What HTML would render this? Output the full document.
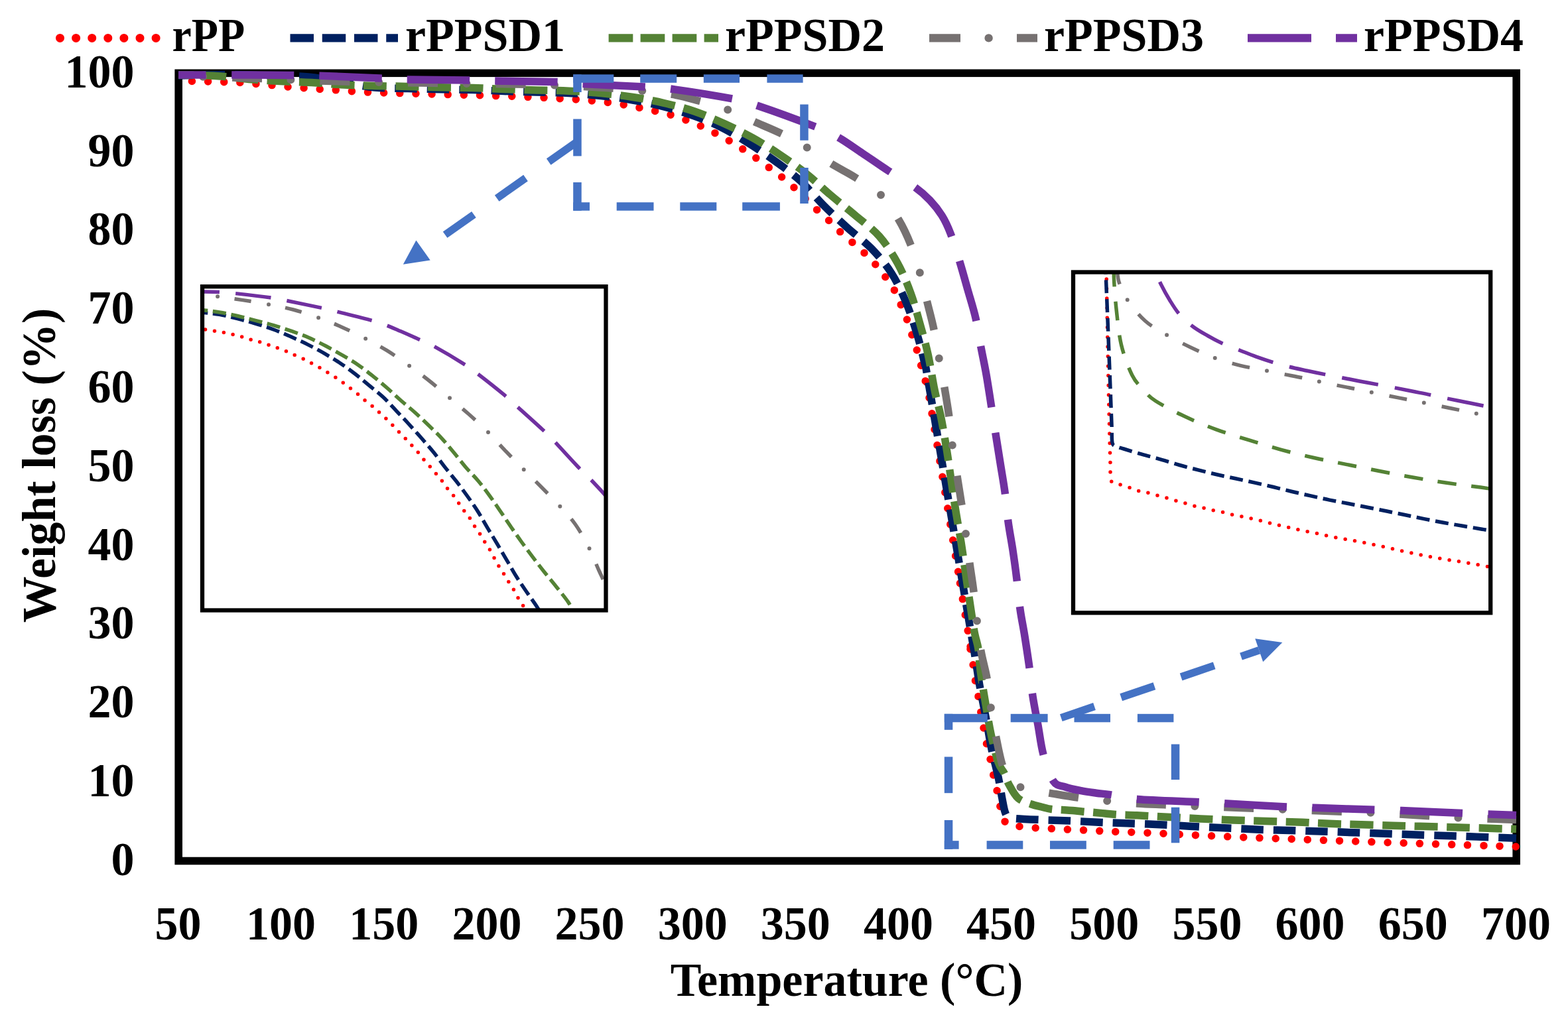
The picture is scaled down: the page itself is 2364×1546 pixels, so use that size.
<!DOCTYPE html><html><head><meta charset="utf-8"><title>TGA curves</title><style>html,body{margin:0;padding:0;background:#fff;}svg{display:block;}text{font-family:"Liberation Serif","Times New Roman",serif;font-weight:bold;fill:#000;}</style></head><body>
<svg width="2364" height="1546" viewBox="0 0 2364 1546">
<rect x="0" y="0" width="2364" height="1546" fill="#fff"/>
<defs><clipPath id="cm"><rect x="263.2" y="104.3" width="2029" height="1200.2"/></clipPath>
<clipPath id="cl"><rect x="305" y="432.2" width="608.5" height="488.3"/></clipPath>
<clipPath id="cr"><rect x="1618" y="410.5" width="629.2" height="513.8"/></clipPath>
<clipPath id="k0"><rect x="0" y="0" width="2364" height="872"/></clipPath>
<clipPath id="k1"><rect x="0" y="872" width="2364" height="674"/></clipPath>
<clipPath id="k2"><rect x="0" y="0" width="1522.5" height="1546"/></clipPath>
<clipPath id="k3"><rect x="1522.5" y="0" width="841.5" height="1546"/></clipPath>
<clipPath id="k4"><rect x="0" y="0" width="1476" height="1546"/></clipPath>
<clipPath id="k5"><rect x="1476" y="0" width="888" height="1546"/></clipPath>
<clipPath id="k6"><rect x="0" y="0" width="2364" height="683"/></clipPath>
<clipPath id="k7"><rect x="0" y="683" width="2364" height="863"/></clipPath>
<clipPath id="k8"><rect x="0" y="0" width="2364" height="683"/></clipPath>
<clipPath id="k9"><rect x="0" y="683" width="2364" height="863"/></clipPath>
<clipPath id="k10"><rect x="0" y="0" width="1362" height="1546"/></clipPath>
<clipPath id="k11"><rect x="1362" y="0" width="217" height="1546"/></clipPath>
<clipPath id="k12"><rect x="1579" y="0" width="785" height="1546"/></clipPath>
</defs>
<rect x="269.2" y="110.3" width="2017" height="1188.2" fill="none" stroke="#000" stroke-width="11.6"/>
<text transform="translate(202.5,1319.9) scale(1,1.025)" font-size="70" text-anchor="end">0</text>
<text transform="translate(202.5,1201.1) scale(1,1.025)" font-size="70" text-anchor="end">10</text>
<text transform="translate(202.5,1082.3) scale(1,1.025)" font-size="70" text-anchor="end">20</text>
<text transform="translate(202.5,963.4) scale(1,1.025)" font-size="70" text-anchor="end">30</text>
<text transform="translate(202.5,844.6) scale(1,1.025)" font-size="70" text-anchor="end">40</text>
<text transform="translate(202.5,725.8) scale(1,1.025)" font-size="70" text-anchor="end">50</text>
<text transform="translate(202.5,607) scale(1,1.025)" font-size="70" text-anchor="end">60</text>
<text transform="translate(202.5,488.2) scale(1,1.025)" font-size="70" text-anchor="end">70</text>
<text transform="translate(202.5,369.3) scale(1,1.025)" font-size="70" text-anchor="end">80</text>
<text transform="translate(202.5,250.5) scale(1,1.025)" font-size="70" text-anchor="end">90</text>
<text transform="translate(202.5,131.7) scale(1,1.025)" font-size="70" text-anchor="end">100</text>
<text transform="translate(268.4,1416.5) scale(1,1.025)" font-size="70" text-anchor="middle">50</text>
<text transform="translate(423.6,1416.5) scale(1,1.025)" font-size="70" text-anchor="middle">100</text>
<text transform="translate(578.7,1416.5) scale(1,1.025)" font-size="70" text-anchor="middle">150</text>
<text transform="translate(733.9,1416.5) scale(1,1.025)" font-size="70" text-anchor="middle">200</text>
<text transform="translate(889,1416.5) scale(1,1.025)" font-size="70" text-anchor="middle">250</text>
<text transform="translate(1044.2,1416.5) scale(1,1.025)" font-size="70" text-anchor="middle">300</text>
<text transform="translate(1199.3,1416.5) scale(1,1.025)" font-size="70" text-anchor="middle">350</text>
<text transform="translate(1354.5,1416.5) scale(1,1.025)" font-size="70" text-anchor="middle">400</text>
<text transform="translate(1509.6,1416.5) scale(1,1.025)" font-size="70" text-anchor="middle">450</text>
<text transform="translate(1664.8,1416.5) scale(1,1.025)" font-size="70" text-anchor="middle">500</text>
<text transform="translate(1819.9,1416.5) scale(1,1.025)" font-size="70" text-anchor="middle">550</text>
<text transform="translate(1975.1,1416.5) scale(1,1.025)" font-size="70" text-anchor="middle">600</text>
<text transform="translate(2130.2,1416.5) scale(1,1.025)" font-size="70" text-anchor="middle">650</text>
<text transform="translate(2285.4,1416.5) scale(1,1.025)" font-size="70" text-anchor="middle">700</text>
<text transform="translate(1276.5,1502) scale(1,1.025)" font-size="70" text-anchor="middle">Temperature (°C)</text>
<text transform="translate(83,702) rotate(-90) scale(1,1.025)" font-size="70" text-anchor="middle">Weight loss (%)</text>
<g fill="none">
<path d="M90.5,57.4 H241" stroke="#FF0000" stroke-width="13.0" stroke-linecap="round" stroke-dasharray="0 24.1"/>
<path d="M437.5,57.4 H600" stroke="#002060" stroke-width="12.2" stroke-dasharray="35.5 12.75"/>
<path d="M917.6,57.4 H1083" stroke="#548235" stroke-width="12.2" stroke-dasharray="36.7 11.3"/>
<path d="M1401,57.4 H1564" stroke="#767171" stroke-width="12.2" stroke-dasharray="47 85"/>
<circle cx="1490.6" cy="57.4" r="6.2" fill="#767171"/>
<path d="M1881,57.4 H2046" stroke="#7030A0" stroke-width="12.2" stroke-dasharray="96 37"/>
</g>
<text transform="translate(611,76.5) scale(1,1.025)" font-size="70">rPPSD1</text>
<text transform="translate(1093,76.5) scale(1,1.025)" font-size="70">rPPSD2</text>
<text transform="translate(1574,76.5) scale(1,1.025)" font-size="70">rPPSD3</text>
<text transform="translate(2056,76.5) scale(1,1.025)" font-size="70">rPPSD4</text>
<text transform="translate(259.5,76.5) scale(0.94,1.025)" font-size="70">rPP</text>
<g clip-path="url(#cm)">
<path d="M269,122 C272.3,122.1 281.7,122.3 289,122.5 C296.3,122.7 305,122.7 313,122.9 C321,123.1 329,123.3 337,123.6 C345,123.9 352.8,124 361,124.5 C369.2,125 377.8,125.7 386,126.4 C394.2,127.1 402,127.8 410,128.6 C418,129.4 426,130.3 434,131 C442,131.7 449.8,132.2 458,132.8 C466.2,133.4 474.8,134 483,134.5 C491.2,135 499,135.4 507,135.9 C515,136.4 523,137.2 531,137.7 C539,138.2 547,138.7 555,139.1 C563,139.5 571,139.8 579,140 C587,140.2 594.8,140.4 603,140.6 C611.2,140.8 619.8,141.1 628,141.3 C636.2,141.5 644,141.8 652,142 C660,142.2 668,142.4 676,142.6 C684,142.8 692,143 700,143.2 C708,143.4 716,143.6 724,143.8 C732,144 740,144.3 748,144.6 C756,144.8 763.8,145 772,145.3 C780.2,145.6 788.8,146.1 797,146.4 C805.2,146.8 813,147 821,147.4 C829,147.8 836.9,148.3 845,148.7 C853.1,149.1 861.5,149.4 869.5,150 C877.5,150.6 885.1,151.2 893,152 C900.9,152.8 909,153.5 917,154.5 C925,155.5 933,156.7 941,158 C949,159.3 957,161 965,162.6 C973,164.2 981.1,165.9 989,167.7 C996.9,169.5 1004.9,171.3 1012.6,173.6 C1020.3,175.9 1027.9,178.7 1035.4,181.5 C1042.9,184.3 1050.2,187.2 1057.4,190.5 C1064.6,193.8 1071.5,197.3 1078.6,201 C1085.6,204.7 1092.8,208.5 1099.7,212.5 C1106.6,216.5 1113.2,220.6 1120,225 C1126.8,229.4 1133.7,234 1140.3,238.7 C1146.9,243.4 1153.3,248.2 1159.8,253 C1166.3,257.8 1173,262.6 1179.2,267.5 C1185.4,272.4 1191.2,277.4 1197,282.7 C1202.8,288 1208.2,293.9 1214,299.5 C1219.8,305.1 1225.7,311 1231.7,316.5 C1237.7,322 1244.1,327.3 1249.8,332.7 C1255.5,338.1 1260.1,343.5 1266,349 C1271.9,354.5 1278.8,360.1 1285,365.5 C1291.2,370.9 1297.2,375.8 1303,381.4 C1308.8,387 1314.7,392.9 1320,399 C1325.3,405.1 1330.3,411.7 1335,418 C1339.7,424.3 1344.2,430.3 1348,437 C1351.8,443.7 1354.3,450.7 1357.5,458 C1360.7,465.3 1364.2,473.3 1367,481 C1369.8,488.7 1372,496.3 1374.5,504 C1377,511.7 1379.7,519.2 1382,527 C1384.3,534.8 1386.3,543.2 1388.5,551 C1390.7,558.8 1393,566.3 1395,574 C1397,581.7 1389.7,533.7 1400.5,597 C1411.3,660.3 1449.2,890.3 1459.6,954 C1470,1017.7 1461.8,971 1463,979 C1464.2,987 1465.8,994 1467,1002 C1468.2,1010 1469.2,1018.9 1470.5,1027 C1471.8,1035.1 1473.7,1043 1475,1050.6 C1476.3,1058.2 1477.2,1064.5 1478.5,1072.4 C1479.8,1080.3 1481.5,1089.7 1483,1098 C1484.5,1106.3 1485.8,1114.2 1487.5,1122 C1489.2,1129.8 1491.3,1137.3 1493,1145 C1494.7,1152.7 1495.8,1160.2 1497.5,1168 C1499.2,1175.8 1501.2,1183.8 1503,1192 C1504.8,1200.2 1506.2,1209.7 1508,1217 C1509.8,1224.3 1511.5,1231.6 1513.5,1236 C1515.5,1240.4 1516.4,1241.8 1520,1243.5 C1523.6,1245.2 1528.7,1245.5 1535.3,1246.3 C1541.9,1247.1 1551.6,1248 1559.8,1248.6 C1568,1249.2 1576.2,1249.4 1584.2,1249.8 C1592.2,1250.2 1599.5,1250.6 1607.5,1251 C1615.5,1251.4 1623.8,1251.6 1632,1252 C1640.2,1252.4 1648.2,1252.9 1656.4,1253.3 C1664.6,1253.7 1668.8,1253.9 1680.9,1254.4 C1693,1254.9 1708.9,1255.2 1729,1256.1 C1749.1,1257 1777.5,1258.5 1801.7,1259.6 C1825.9,1260.7 1850.1,1261.9 1874.3,1262.9 C1898.5,1263.9 1926.9,1264.8 1947,1265.5 C1967.1,1266.2 1969.5,1266.4 1995,1267.3 C2020.5,1268.2 2065.8,1269.8 2100,1271 C2134.2,1272.2 2169,1273.2 2200,1274.2 C2231,1275.2 2271.7,1276.5 2286,1277" fill="none" stroke="#FF0000" stroke-width="11.5" stroke-linecap="round" stroke-linejoin="round" stroke-dasharray="0 24.15" stroke-dashoffset="3.7" clip-path="url(#k0)"/><path d="M269,122 C272.3,122.1 281.7,122.3 289,122.5 C296.3,122.7 305,122.7 313,122.9 C321,123.1 329,123.3 337,123.6 C345,123.9 352.8,124 361,124.5 C369.2,125 377.8,125.7 386,126.4 C394.2,127.1 402,127.8 410,128.6 C418,129.4 426,130.3 434,131 C442,131.7 449.8,132.2 458,132.8 C466.2,133.4 474.8,134 483,134.5 C491.2,135 499,135.4 507,135.9 C515,136.4 523,137.2 531,137.7 C539,138.2 547,138.7 555,139.1 C563,139.5 571,139.8 579,140 C587,140.2 594.8,140.4 603,140.6 C611.2,140.8 619.8,141.1 628,141.3 C636.2,141.5 644,141.8 652,142 C660,142.2 668,142.4 676,142.6 C684,142.8 692,143 700,143.2 C708,143.4 716,143.6 724,143.8 C732,144 740,144.3 748,144.6 C756,144.8 763.8,145 772,145.3 C780.2,145.6 788.8,146.1 797,146.4 C805.2,146.8 813,147 821,147.4 C829,147.8 836.9,148.3 845,148.7 C853.1,149.1 861.5,149.4 869.5,150 C877.5,150.6 885.1,151.2 893,152 C900.9,152.8 909,153.5 917,154.5 C925,155.5 933,156.7 941,158 C949,159.3 957,161 965,162.6 C973,164.2 981.1,165.9 989,167.7 C996.9,169.5 1004.9,171.3 1012.6,173.6 C1020.3,175.9 1027.9,178.7 1035.4,181.5 C1042.9,184.3 1050.2,187.2 1057.4,190.5 C1064.6,193.8 1071.5,197.3 1078.6,201 C1085.6,204.7 1092.8,208.5 1099.7,212.5 C1106.6,216.5 1113.2,220.6 1120,225 C1126.8,229.4 1133.7,234 1140.3,238.7 C1146.9,243.4 1153.3,248.2 1159.8,253 C1166.3,257.8 1173,262.6 1179.2,267.5 C1185.4,272.4 1191.2,277.4 1197,282.7 C1202.8,288 1208.2,293.9 1214,299.5 C1219.8,305.1 1225.7,311 1231.7,316.5 C1237.7,322 1244.1,327.3 1249.8,332.7 C1255.5,338.1 1260.1,343.5 1266,349 C1271.9,354.5 1278.8,360.1 1285,365.5 C1291.2,370.9 1297.2,375.8 1303,381.4 C1308.8,387 1314.7,392.9 1320,399 C1325.3,405.1 1330.3,411.7 1335,418 C1339.7,424.3 1344.2,430.3 1348,437 C1351.8,443.7 1354.3,450.7 1357.5,458 C1360.7,465.3 1364.2,473.3 1367,481 C1369.8,488.7 1372,496.3 1374.5,504 C1377,511.7 1379.7,519.2 1382,527 C1384.3,534.8 1386.3,543.2 1388.5,551 C1390.7,558.8 1393,566.3 1395,574 C1397,581.7 1389.7,533.7 1400.5,597 C1411.3,660.3 1449.2,890.3 1459.6,954 C1470,1017.7 1461.8,971 1463,979 C1464.2,987 1465.8,994 1467,1002 C1468.2,1010 1469.2,1018.9 1470.5,1027 C1471.8,1035.1 1473.7,1043 1475,1050.6 C1476.3,1058.2 1477.2,1064.5 1478.5,1072.4 C1479.8,1080.3 1481.5,1089.7 1483,1098 C1484.5,1106.3 1485.8,1114.2 1487.5,1122 C1489.2,1129.8 1491.3,1137.3 1493,1145 C1494.7,1152.7 1495.8,1160.2 1497.5,1168 C1499.2,1175.8 1501.2,1183.8 1503,1192 C1504.8,1200.2 1506.2,1209.7 1508,1217 C1509.8,1224.3 1511.5,1231.6 1513.5,1236 C1515.5,1240.4 1516.4,1241.8 1520,1243.5 C1523.6,1245.2 1528.7,1245.5 1535.3,1246.3 C1541.9,1247.1 1551.6,1248 1559.8,1248.6 C1568,1249.2 1576.2,1249.4 1584.2,1249.8 C1592.2,1250.2 1599.5,1250.6 1607.5,1251 C1615.5,1251.4 1623.8,1251.6 1632,1252 C1640.2,1252.4 1648.2,1252.9 1656.4,1253.3 C1664.6,1253.7 1668.8,1253.9 1680.9,1254.4 C1693,1254.9 1708.9,1255.2 1729,1256.1 C1749.1,1257 1777.5,1258.5 1801.7,1259.6 C1825.9,1260.7 1850.1,1261.9 1874.3,1262.9 C1898.5,1263.9 1926.9,1264.8 1947,1265.5 C1967.1,1266.2 1969.5,1266.4 1995,1267.3 C2020.5,1268.2 2065.8,1269.8 2100,1271 C2134.2,1272.2 2169,1273.2 2200,1274.2 C2231,1275.2 2271.7,1276.5 2286,1277" fill="none" stroke="#FF0000" stroke-width="11.5" stroke-linecap="round" stroke-linejoin="round" stroke-dasharray="0 24.15" stroke-dashoffset="10.1" clip-path="url(#k1)"/>
<path d="M269,114 C280.8,113.8 318.2,112.5 340,112.5 C361.8,112.5 379.2,113.4 400,114 C420.8,114.6 445,114.2 465,116 C485,117.8 503.3,122.3 520,125 C536.7,127.7 549.2,130.6 565,132 C580.8,133.4 598.5,133 615,133.5 C631.5,134 647.7,134.5 664,134.8 C680.3,135.1 697,135.1 713,135.5 C729,135.9 744,136.9 760,137.5 C776,138.1 792.7,138.5 809,139 C825.3,139.5 841.8,139.6 858,140.5 C874.2,141.4 890,142.8 906,144.5 C922,146.2 938.2,148.2 954,151 C969.8,153.8 985.5,157 1001,161 C1016.5,165 1032.2,169.7 1047,175 C1061.8,180.3 1075.7,186 1089.5,193 C1103.3,200 1116.6,208.5 1130,217 C1143.4,225.5 1157.2,234.7 1170,244 C1182.8,253.3 1195,262 1207,273 C1219,284 1230.3,298.3 1242,310 C1253.7,321.7 1265,332.2 1277,343 C1289,353.8 1302.8,363.5 1314,375 C1325.2,386.5 1335.3,398.5 1344,412 C1352.7,425.5 1359.7,441 1366,456 C1372.3,471 1377.3,486.7 1382,502 C1386.7,517.3 1390.7,533.3 1394,548 C1397.3,562.7 1390.7,524.2 1402,590 C1413.3,655.8 1450.8,876.8 1462,943 C1473.2,1009.2 1467,971.8 1469.5,987 C1472,1002.2 1474.2,1018 1477,1034 C1479.8,1050 1483.5,1067 1486.5,1083 C1489.5,1099 1491.9,1115.2 1495,1130 C1498.1,1144.8 1502.3,1159.5 1505,1172 C1507.7,1184.5 1509.3,1196.3 1511,1205 C1512.7,1213.7 1513.5,1219.4 1515,1224 C1516.5,1228.6 1517.5,1230.8 1520,1232.5 C1522.5,1234.2 1522.7,1233.9 1530,1234.5 C1537.3,1235.1 1550.3,1235.7 1564,1236.3 C1577.7,1236.9 1595.8,1237.3 1612,1238 C1628.2,1238.7 1646.3,1239.8 1661,1240.4 C1675.7,1241 1683.7,1241.2 1700,1241.8 C1716.3,1242.4 1741,1243.3 1759,1244.2 C1777,1245.1 1791.8,1246.2 1808,1247 C1824.2,1247.8 1840,1248.5 1856,1249.2 C1872,1249.9 1887.8,1250.8 1904,1251.4 C1920.2,1252 1937,1252.3 1953,1252.8 C1969,1253.3 1975.5,1253.5 2000,1254.3 C2024.5,1255.1 2066.7,1256.6 2100,1257.8 C2133.3,1259 2169,1260.1 2200,1261.2 C2231,1262.3 2271.7,1263.7 2286,1264.2" fill="none" stroke="#002060" stroke-width="11.5" stroke-linecap="butt" stroke-linejoin="round" stroke-dasharray="33.5 15" stroke-dashoffset="11.9" clip-path="url(#k2)"/><path d="M269,114 C280.8,113.8 318.2,112.5 340,112.5 C361.8,112.5 379.2,113.4 400,114 C420.8,114.6 445,114.2 465,116 C485,117.8 503.3,122.3 520,125 C536.7,127.7 549.2,130.6 565,132 C580.8,133.4 598.5,133 615,133.5 C631.5,134 647.7,134.5 664,134.8 C680.3,135.1 697,135.1 713,135.5 C729,135.9 744,136.9 760,137.5 C776,138.1 792.7,138.5 809,139 C825.3,139.5 841.8,139.6 858,140.5 C874.2,141.4 890,142.8 906,144.5 C922,146.2 938.2,148.2 954,151 C969.8,153.8 985.5,157 1001,161 C1016.5,165 1032.2,169.7 1047,175 C1061.8,180.3 1075.7,186 1089.5,193 C1103.3,200 1116.6,208.5 1130,217 C1143.4,225.5 1157.2,234.7 1170,244 C1182.8,253.3 1195,262 1207,273 C1219,284 1230.3,298.3 1242,310 C1253.7,321.7 1265,332.2 1277,343 C1289,353.8 1302.8,363.5 1314,375 C1325.2,386.5 1335.3,398.5 1344,412 C1352.7,425.5 1359.7,441 1366,456 C1372.3,471 1377.3,486.7 1382,502 C1386.7,517.3 1390.7,533.3 1394,548 C1397.3,562.7 1390.7,524.2 1402,590 C1413.3,655.8 1450.8,876.8 1462,943 C1473.2,1009.2 1467,971.8 1469.5,987 C1472,1002.2 1474.2,1018 1477,1034 C1479.8,1050 1483.5,1067 1486.5,1083 C1489.5,1099 1491.9,1115.2 1495,1130 C1498.1,1144.8 1502.3,1159.5 1505,1172 C1507.7,1184.5 1509.3,1196.3 1511,1205 C1512.7,1213.7 1513.5,1219.4 1515,1224 C1516.5,1228.6 1517.5,1230.8 1520,1232.5 C1522.5,1234.2 1522.7,1233.9 1530,1234.5 C1537.3,1235.1 1550.3,1235.7 1564,1236.3 C1577.7,1236.9 1595.8,1237.3 1612,1238 C1628.2,1238.7 1646.3,1239.8 1661,1240.4 C1675.7,1241 1683.7,1241.2 1700,1241.8 C1716.3,1242.4 1741,1243.3 1759,1244.2 C1777,1245.1 1791.8,1246.2 1808,1247 C1824.2,1247.8 1840,1248.5 1856,1249.2 C1872,1249.9 1887.8,1250.8 1904,1251.4 C1920.2,1252 1937,1252.3 1953,1252.8 C1969,1253.3 1975.5,1253.5 2000,1254.3 C2024.5,1255.1 2066.7,1256.6 2100,1257.8 C2133.3,1259 2169,1260.1 2200,1261.2 C2231,1262.3 2271.7,1263.7 2286,1264.2" fill="none" stroke="#002060" stroke-width="11.5" stroke-linecap="butt" stroke-linejoin="round" stroke-dasharray="33.5 15" stroke-dashoffset="8.9" clip-path="url(#k3)"/>
<path d="M269,113 C278.3,113.2 307.3,113.3 325,114.4 C342.7,115.5 358.8,118.2 375,119.5 C391.2,120.8 406.2,121.7 422,122.5 C437.8,123.3 453.8,123.6 470,124.5 C486.2,125.4 503.2,127.2 519,128 C534.8,128.8 549,129.1 565,129.5 C581,129.9 598.5,130.1 615,130.5 C631.5,130.9 647.7,131.5 664,131.8 C680.3,132.1 697,132.1 713,132.5 C729,132.9 744,133.9 760,134.5 C776,135.1 792.7,135.5 809,135.9 C825.3,136.3 841.8,136.4 858,137.2 C874.2,138 890,139 906,140.6 C922,142.2 938.2,144 954,146.5 C969.8,149 985.5,151.9 1001,155.5 C1016.5,159.1 1031.8,162.8 1047,168 C1062.2,173.2 1077.3,179.8 1092,186.5 C1106.7,193.2 1121.2,200.3 1135,208 C1148.8,215.7 1161.7,223.8 1175,232.7 C1188.3,241.6 1202.2,251.4 1215,261.5 C1227.8,271.6 1239.1,282.9 1251.5,293.5 C1263.9,304.1 1277.1,314.3 1289.5,324.8 C1301.9,335.3 1315,344.3 1325.7,356.4 C1336.4,368.5 1345.6,383 1353.4,397.2 C1361.2,411.4 1367.2,426.3 1372.8,441.4 C1378.4,456.5 1382.4,472.4 1386.8,487.8 C1391.2,503.2 1395.3,517.3 1399,534 C1402.7,550.7 1405.8,572.3 1409,588 C1412.2,603.7 1415.4,613.2 1418.4,628 C1421.4,642.8 1424.4,660.5 1427,676.5 C1429.6,692.5 1431.7,708.2 1434,724 C1436.3,739.8 1438.5,755.3 1441,771 C1443.5,786.7 1446.5,802.1 1449,818 C1451.5,833.9 1453.7,850.5 1456,866.5 C1458.3,882.5 1460.8,899.6 1463,914 C1465.2,928.4 1467,942.2 1469,953 C1471,963.8 1473.5,969.3 1475,979 C1476.5,988.7 1476.2,997.7 1478,1011 C1479.8,1024.3 1482.8,1043 1485.5,1059 C1488.2,1075 1490.8,1091.8 1494,1107 C1497.2,1122.2 1501.7,1140.2 1505,1150 C1508.3,1159.8 1511.3,1160.5 1514,1166 C1516.7,1171.5 1517.5,1176.7 1521,1183 C1524.5,1189.3 1529.3,1199 1535,1204 C1540.7,1209 1549.2,1210.8 1555,1213 C1560.8,1215.2 1565,1215.8 1570,1217 C1575,1218.2 1579.8,1219.8 1585,1220.5 C1590.2,1221.2 1595.7,1221.2 1601,1221.5 C1606.3,1221.8 1611.7,1222 1617,1222.5 C1622.3,1223 1627.5,1223.7 1633,1224.2 C1638.5,1224.7 1644.5,1224.9 1650,1225.4 C1655.5,1225.9 1660.7,1226.5 1666,1227 C1671.3,1227.5 1674,1228 1682,1228.5 C1690,1229 1701.8,1229.2 1714,1229.8 C1726.2,1230.4 1739,1231.2 1755,1232 C1771,1232.8 1792.7,1234.1 1810,1234.9 C1827.3,1235.7 1842.8,1236.4 1859,1237 C1875.2,1237.6 1890.8,1238 1907,1238.5 C1923.2,1239 1939.8,1239.4 1956,1240 C1972.2,1240.6 1980,1241.4 2004,1242.3 C2028,1243.2 2067.3,1244.2 2100,1245.2 C2132.7,1246.2 2169,1247.1 2200,1248 C2231,1248.9 2271.7,1250.1 2286,1250.5" fill="none" stroke="#548235" stroke-width="11.5" stroke-linecap="butt" stroke-linejoin="round" stroke-dasharray="35 13.5" stroke-dashoffset="11.5" clip-path="url(#k4)"/><path d="M269,113 C278.3,113.2 307.3,113.3 325,114.4 C342.7,115.5 358.8,118.2 375,119.5 C391.2,120.8 406.2,121.7 422,122.5 C437.8,123.3 453.8,123.6 470,124.5 C486.2,125.4 503.2,127.2 519,128 C534.8,128.8 549,129.1 565,129.5 C581,129.9 598.5,130.1 615,130.5 C631.5,130.9 647.7,131.5 664,131.8 C680.3,132.1 697,132.1 713,132.5 C729,132.9 744,133.9 760,134.5 C776,135.1 792.7,135.5 809,135.9 C825.3,136.3 841.8,136.4 858,137.2 C874.2,138 890,139 906,140.6 C922,142.2 938.2,144 954,146.5 C969.8,149 985.5,151.9 1001,155.5 C1016.5,159.1 1031.8,162.8 1047,168 C1062.2,173.2 1077.3,179.8 1092,186.5 C1106.7,193.2 1121.2,200.3 1135,208 C1148.8,215.7 1161.7,223.8 1175,232.7 C1188.3,241.6 1202.2,251.4 1215,261.5 C1227.8,271.6 1239.1,282.9 1251.5,293.5 C1263.9,304.1 1277.1,314.3 1289.5,324.8 C1301.9,335.3 1315,344.3 1325.7,356.4 C1336.4,368.5 1345.6,383 1353.4,397.2 C1361.2,411.4 1367.2,426.3 1372.8,441.4 C1378.4,456.5 1382.4,472.4 1386.8,487.8 C1391.2,503.2 1395.3,517.3 1399,534 C1402.7,550.7 1405.8,572.3 1409,588 C1412.2,603.7 1415.4,613.2 1418.4,628 C1421.4,642.8 1424.4,660.5 1427,676.5 C1429.6,692.5 1431.7,708.2 1434,724 C1436.3,739.8 1438.5,755.3 1441,771 C1443.5,786.7 1446.5,802.1 1449,818 C1451.5,833.9 1453.7,850.5 1456,866.5 C1458.3,882.5 1460.8,899.6 1463,914 C1465.2,928.4 1467,942.2 1469,953 C1471,963.8 1473.5,969.3 1475,979 C1476.5,988.7 1476.2,997.7 1478,1011 C1479.8,1024.3 1482.8,1043 1485.5,1059 C1488.2,1075 1490.8,1091.8 1494,1107 C1497.2,1122.2 1501.7,1140.2 1505,1150 C1508.3,1159.8 1511.3,1160.5 1514,1166 C1516.7,1171.5 1517.5,1176.7 1521,1183 C1524.5,1189.3 1529.3,1199 1535,1204 C1540.7,1209 1549.2,1210.8 1555,1213 C1560.8,1215.2 1565,1215.8 1570,1217 C1575,1218.2 1579.8,1219.8 1585,1220.5 C1590.2,1221.2 1595.7,1221.2 1601,1221.5 C1606.3,1221.8 1611.7,1222 1617,1222.5 C1622.3,1223 1627.5,1223.7 1633,1224.2 C1638.5,1224.7 1644.5,1224.9 1650,1225.4 C1655.5,1225.9 1660.7,1226.5 1666,1227 C1671.3,1227.5 1674,1228 1682,1228.5 C1690,1229 1701.8,1229.2 1714,1229.8 C1726.2,1230.4 1739,1231.2 1755,1232 C1771,1232.8 1792.7,1234.1 1810,1234.9 C1827.3,1235.7 1842.8,1236.4 1859,1237 C1875.2,1237.6 1890.8,1238 1907,1238.5 C1923.2,1239 1939.8,1239.4 1956,1240 C1972.2,1240.6 1980,1241.4 2004,1242.3 C2028,1243.2 2067.3,1244.2 2100,1245.2 C2132.7,1246.2 2169,1247.1 2200,1248 C2231,1248.9 2271.7,1250.1 2286,1250.5" fill="none" stroke="#548235" stroke-width="11.5" stroke-linecap="butt" stroke-linejoin="round" stroke-dasharray="35 13.5" stroke-dashoffset="15.4" clip-path="url(#k5)"/>
<path d="M269,115 C282.5,115.3 324.8,116.2 350,117 C375.2,117.8 395,118.6 420,119.5 C445,120.4 470,121.7 500,122.5 C530,123.3 566.7,123.9 600,124.5 C633.3,125.1 666.7,125.5 700,126 C733.3,126.5 771.7,126.6 800,127.3 C828.3,128 846.7,128.8 870,130 C893.3,131.2 916.5,132.5 940,134.5 C963.5,136.5 991.8,139 1011,142 C1030.2,145 1040.8,148.7 1055,152.5 C1069.2,156.3 1082.5,159.9 1096,165 C1109.5,170.1 1122.3,176.9 1136,183 C1149.7,189.1 1164.7,195 1178,201.5 C1191.3,208 1203.7,214.6 1216,222 C1228.3,229.4 1239.7,238.3 1252,246 C1264.3,253.7 1277.3,260 1290,268 C1302.7,276 1317.2,283.4 1328,294 C1338.8,304.6 1347.5,319 1355,331.5 C1362.5,344 1367.7,355.6 1373,369 C1378.3,382.4 1382.8,397.5 1387,412 C1391.2,426.5 1394.5,441.8 1398,456 C1401.5,470.2 1405,482.7 1408,497 C1411,511.3 1413.3,527.3 1416,542 C1418.7,556.7 1421.5,570.5 1424,585 C1426.5,599.5 1429,614.3 1431,629 C1433,643.7 1434,658.2 1436,673 C1438,687.8 1440.7,703.2 1443,718 C1445.3,732.8 1447.8,747.5 1450,762 C1452.2,776.5 1454,790.3 1456,805 C1458,819.7 1460,835.5 1462,850 C1464,864.5 1466.2,877.5 1468,892 C1469.8,906.5 1471.2,922 1473,937 C1474.8,952 1476.5,967.7 1479,982 C1481.5,996.3 1485.5,1008.7 1488,1023 C1490.5,1037.3 1491.7,1053 1494,1068 C1496.3,1083 1499.2,1098.8 1502,1113 C1504.8,1127.2 1507.8,1143.2 1511,1153 C1514.2,1162.8 1516.5,1166.3 1521,1172 C1525.5,1177.7 1531.5,1183.5 1538,1187 C1544.5,1190.5 1552.8,1191.5 1560,1193 C1567.2,1194.5 1570.2,1194.3 1581,1196 C1591.8,1197.7 1610.3,1201 1625,1203 C1639.7,1205 1654,1206.5 1669,1208 C1684,1209.5 1700.2,1211 1715,1212 C1729.8,1213 1743.5,1213.3 1758,1214 C1772.5,1214.7 1783.3,1215.2 1802,1216 C1820.7,1216.8 1845.3,1217.6 1870,1218.5 C1894.7,1219.4 1916.7,1220.2 1950,1221.5 C1983.3,1222.8 2036.7,1224.5 2070,1226 C2103.3,1227.5 2128.3,1229.2 2150,1230.5 C2171.7,1231.8 2177.3,1232.5 2200,1233.5 C2222.7,1234.5 2271.7,1236 2286,1236.5" fill="none" stroke="#767171" stroke-width="11.5" stroke-linecap="butt" stroke-linejoin="round" stroke-dasharray="45 87.5" stroke-dashoffset="51.3" clip-path="url(#k6)"/><path d="M269,115 C282.5,115.3 324.8,116.2 350,117 C375.2,117.8 395,118.6 420,119.5 C445,120.4 470,121.7 500,122.5 C530,123.3 566.7,123.9 600,124.5 C633.3,125.1 666.7,125.5 700,126 C733.3,126.5 771.7,126.6 800,127.3 C828.3,128 846.7,128.8 870,130 C893.3,131.2 916.5,132.5 940,134.5 C963.5,136.5 991.8,139 1011,142 C1030.2,145 1040.8,148.7 1055,152.5 C1069.2,156.3 1082.5,159.9 1096,165 C1109.5,170.1 1122.3,176.9 1136,183 C1149.7,189.1 1164.7,195 1178,201.5 C1191.3,208 1203.7,214.6 1216,222 C1228.3,229.4 1239.7,238.3 1252,246 C1264.3,253.7 1277.3,260 1290,268 C1302.7,276 1317.2,283.4 1328,294 C1338.8,304.6 1347.5,319 1355,331.5 C1362.5,344 1367.7,355.6 1373,369 C1378.3,382.4 1382.8,397.5 1387,412 C1391.2,426.5 1394.5,441.8 1398,456 C1401.5,470.2 1405,482.7 1408,497 C1411,511.3 1413.3,527.3 1416,542 C1418.7,556.7 1421.5,570.5 1424,585 C1426.5,599.5 1429,614.3 1431,629 C1433,643.7 1434,658.2 1436,673 C1438,687.8 1440.7,703.2 1443,718 C1445.3,732.8 1447.8,747.5 1450,762 C1452.2,776.5 1454,790.3 1456,805 C1458,819.7 1460,835.5 1462,850 C1464,864.5 1466.2,877.5 1468,892 C1469.8,906.5 1471.2,922 1473,937 C1474.8,952 1476.5,967.7 1479,982 C1481.5,996.3 1485.5,1008.7 1488,1023 C1490.5,1037.3 1491.7,1053 1494,1068 C1496.3,1083 1499.2,1098.8 1502,1113 C1504.8,1127.2 1507.8,1143.2 1511,1153 C1514.2,1162.8 1516.5,1166.3 1521,1172 C1525.5,1177.7 1531.5,1183.5 1538,1187 C1544.5,1190.5 1552.8,1191.5 1560,1193 C1567.2,1194.5 1570.2,1194.3 1581,1196 C1591.8,1197.7 1610.3,1201 1625,1203 C1639.7,1205 1654,1206.5 1669,1208 C1684,1209.5 1700.2,1211 1715,1212 C1729.8,1213 1743.5,1213.3 1758,1214 C1772.5,1214.7 1783.3,1215.2 1802,1216 C1820.7,1216.8 1845.3,1217.6 1870,1218.5 C1894.7,1219.4 1916.7,1220.2 1950,1221.5 C1983.3,1222.8 2036.7,1224.5 2070,1226 C2103.3,1227.5 2128.3,1229.2 2150,1230.5 C2171.7,1231.8 2177.3,1232.5 2200,1233.5 C2222.7,1234.5 2271.7,1236 2286,1236.5" fill="none" stroke="#767171" stroke-width="11.5" stroke-linecap="butt" stroke-linejoin="round" stroke-dasharray="45 87.5" stroke-dashoffset="48.7" clip-path="url(#k7)"/>
<path d="M269,115 C282.5,115.3 324.8,116.2 350,117 C375.2,117.8 395,118.6 420,119.5 C445,120.4 470,121.7 500,122.5 C530,123.3 566.7,123.9 600,124.5 C633.3,125.1 666.7,125.5 700,126 C733.3,126.5 771.7,126.6 800,127.3 C828.3,128 846.7,128.8 870,130 C893.3,131.2 916.5,132.5 940,134.5 C963.5,136.5 991.8,139 1011,142 C1030.2,145 1040.8,148.7 1055,152.5 C1069.2,156.3 1082.5,159.9 1096,165 C1109.5,170.1 1122.3,176.9 1136,183 C1149.7,189.1 1164.7,195 1178,201.5 C1191.3,208 1203.7,214.6 1216,222 C1228.3,229.4 1239.7,238.3 1252,246 C1264.3,253.7 1277.3,260 1290,268 C1302.7,276 1317.2,283.4 1328,294 C1338.8,304.6 1347.5,319 1355,331.5 C1362.5,344 1367.7,355.6 1373,369 C1378.3,382.4 1382.8,397.5 1387,412 C1391.2,426.5 1394.5,441.8 1398,456 C1401.5,470.2 1405,482.7 1408,497 C1411,511.3 1413.3,527.3 1416,542 C1418.7,556.7 1421.5,570.5 1424,585 C1426.5,599.5 1429,614.3 1431,629 C1433,643.7 1434,658.2 1436,673 C1438,687.8 1440.7,703.2 1443,718 C1445.3,732.8 1447.8,747.5 1450,762 C1452.2,776.5 1454,790.3 1456,805 C1458,819.7 1460,835.5 1462,850 C1464,864.5 1466.2,877.5 1468,892 C1469.8,906.5 1471.2,922 1473,937 C1474.8,952 1476.5,967.7 1479,982 C1481.5,996.3 1485.5,1008.7 1488,1023 C1490.5,1037.3 1491.7,1053 1494,1068 C1496.3,1083 1499.2,1098.8 1502,1113 C1504.8,1127.2 1507.8,1143.2 1511,1153 C1514.2,1162.8 1516.5,1166.3 1521,1172 C1525.5,1177.7 1531.5,1183.5 1538,1187 C1544.5,1190.5 1552.8,1191.5 1560,1193 C1567.2,1194.5 1570.2,1194.3 1581,1196 C1591.8,1197.7 1610.3,1201 1625,1203 C1639.7,1205 1654,1206.5 1669,1208 C1684,1209.5 1700.2,1211 1715,1212 C1729.8,1213 1743.5,1213.3 1758,1214 C1772.5,1214.7 1783.3,1215.2 1802,1216 C1820.7,1216.8 1845.3,1217.6 1870,1218.5 C1894.7,1219.4 1916.7,1220.2 1950,1221.5 C1983.3,1222.8 2036.7,1224.5 2070,1226 C2103.3,1227.5 2128.3,1229.2 2150,1230.5 C2171.7,1231.8 2177.3,1232.5 2200,1233.5 C2222.7,1234.5 2271.7,1236 2286,1236.5" fill="none" stroke="#767171" stroke-width="12.0" stroke-linecap="round" stroke-linejoin="round" stroke-dasharray="0 132.5" stroke-dashoffset="95.3" clip-path="url(#k8)"/><path d="M269,115 C282.5,115.3 324.8,116.2 350,117 C375.2,117.8 395,118.6 420,119.5 C445,120.4 470,121.7 500,122.5 C530,123.3 566.7,123.9 600,124.5 C633.3,125.1 666.7,125.5 700,126 C733.3,126.5 771.7,126.6 800,127.3 C828.3,128 846.7,128.8 870,130 C893.3,131.2 916.5,132.5 940,134.5 C963.5,136.5 991.8,139 1011,142 C1030.2,145 1040.8,148.7 1055,152.5 C1069.2,156.3 1082.5,159.9 1096,165 C1109.5,170.1 1122.3,176.9 1136,183 C1149.7,189.1 1164.7,195 1178,201.5 C1191.3,208 1203.7,214.6 1216,222 C1228.3,229.4 1239.7,238.3 1252,246 C1264.3,253.7 1277.3,260 1290,268 C1302.7,276 1317.2,283.4 1328,294 C1338.8,304.6 1347.5,319 1355,331.5 C1362.5,344 1367.7,355.6 1373,369 C1378.3,382.4 1382.8,397.5 1387,412 C1391.2,426.5 1394.5,441.8 1398,456 C1401.5,470.2 1405,482.7 1408,497 C1411,511.3 1413.3,527.3 1416,542 C1418.7,556.7 1421.5,570.5 1424,585 C1426.5,599.5 1429,614.3 1431,629 C1433,643.7 1434,658.2 1436,673 C1438,687.8 1440.7,703.2 1443,718 C1445.3,732.8 1447.8,747.5 1450,762 C1452.2,776.5 1454,790.3 1456,805 C1458,819.7 1460,835.5 1462,850 C1464,864.5 1466.2,877.5 1468,892 C1469.8,906.5 1471.2,922 1473,937 C1474.8,952 1476.5,967.7 1479,982 C1481.5,996.3 1485.5,1008.7 1488,1023 C1490.5,1037.3 1491.7,1053 1494,1068 C1496.3,1083 1499.2,1098.8 1502,1113 C1504.8,1127.2 1507.8,1143.2 1511,1153 C1514.2,1162.8 1516.5,1166.3 1521,1172 C1525.5,1177.7 1531.5,1183.5 1538,1187 C1544.5,1190.5 1552.8,1191.5 1560,1193 C1567.2,1194.5 1570.2,1194.3 1581,1196 C1591.8,1197.7 1610.3,1201 1625,1203 C1639.7,1205 1654,1206.5 1669,1208 C1684,1209.5 1700.2,1211 1715,1212 C1729.8,1213 1743.5,1213.3 1758,1214 C1772.5,1214.7 1783.3,1215.2 1802,1216 C1820.7,1216.8 1845.3,1217.6 1870,1218.5 C1894.7,1219.4 1916.7,1220.2 1950,1221.5 C1983.3,1222.8 2036.7,1224.5 2070,1226 C2103.3,1227.5 2128.3,1229.2 2150,1230.5 C2171.7,1231.8 2177.3,1232.5 2200,1233.5 C2222.7,1234.5 2271.7,1236 2286,1236.5" fill="none" stroke="#767171" stroke-width="12.0" stroke-linecap="round" stroke-linejoin="round" stroke-dasharray="0 132.5" stroke-dashoffset="92.7" clip-path="url(#k9)"/>
<path d="M269,113 C287.5,113 351.5,112.9 380,113 C408.5,113.1 423.7,113.3 440,113.5 C456.3,113.7 455.8,113.2 478,114 C500.2,114.8 550.8,117 573,118 C595.2,119 588.7,119.5 611,120 C633.3,120.5 684.8,120.7 707,121 C729.2,121.3 722,121.6 744,122 C766,122.4 816.8,122.8 839,123.5 C861.2,124.2 854.8,125.2 877,126.5 C899.2,127.8 949.7,129.8 972,131 C994.3,132.2 989,131 1011,134 C1033,137 1082.3,144.8 1104,149 C1125.7,153.2 1120.2,152 1141,159 C1161.8,166 1208.8,183.2 1229,191 C1249.2,198.8 1250.2,199.3 1262,206 C1273.8,212.7 1287,222.3 1300,231 C1313,239.7 1326.8,249.5 1340,258 C1353.2,266.5 1368.7,274.7 1379,282 C1389.3,289.3 1395.2,294.8 1402,302 C1408.8,309.2 1414.8,316.7 1420,325 C1425.2,333.3 1428.5,340.3 1433,352 C1437.5,363.7 1442.7,380.8 1447,395 C1451.3,409.2 1455,422.8 1459,437 C1463,451.2 1467.7,465.5 1471,480 C1474.3,494.5 1476.3,509.8 1479,524 C1481.7,538.2 1484.5,550.8 1487,565 C1489.5,579.2 1491.7,594.2 1494,609 C1496.3,623.8 1498.7,639.2 1501,654 C1503.3,668.8 1505.7,683.3 1508,698 C1510.3,712.7 1513,727.2 1515,742 C1517,756.8 1518,772.3 1520,787 C1522,801.7 1524.8,815.5 1527,830 C1529.2,844.5 1531.2,859.2 1533,874 C1534.8,888.8 1536,904.7 1538,919 C1540,933.3 1542.7,945.3 1545,960 C1547.3,974.7 1550,992 1552,1007 C1554,1022 1554.8,1035.5 1557,1050 C1559.2,1064.5 1562.3,1079.3 1565,1094 C1567.7,1108.7 1569.2,1124 1573,1138 C1576.8,1152 1582.5,1169.8 1588,1178 C1593.5,1186.2 1599,1184.5 1606,1187 C1613,1189.5 1622.2,1191.2 1630,1192.7 C1637.8,1194.2 1645.7,1195.2 1653,1196.2 C1660.3,1197.2 1663.7,1197.1 1674,1198.6 C1684.3,1200.1 1692.7,1203.6 1715,1205.4 C1737.3,1207.2 1786.2,1208.6 1808,1209.7 C1829.8,1210.8 1824,1210.6 1846,1211.8 C1868,1213 1917.7,1215.8 1940,1216.9 C1962.3,1218 1965,1217.8 1980,1218.3 C1995,1218.8 2007.8,1219.3 2030,1220 C2052.2,1220.7 2083.2,1221.4 2113,1222.5 C2142.8,1223.6 2180.2,1225.5 2209,1226.7 C2237.8,1227.9 2273.2,1229 2286,1229.5" fill="none" stroke="#7030A0" stroke-width="11.5" stroke-linecap="butt" stroke-linejoin="round" stroke-dasharray="94 38.5" stroke-dashoffset="52.4" clip-path="url(#k10)"/><path d="M269,113 C287.5,113 351.5,112.9 380,113 C408.5,113.1 423.7,113.3 440,113.5 C456.3,113.7 455.8,113.2 478,114 C500.2,114.8 550.8,117 573,118 C595.2,119 588.7,119.5 611,120 C633.3,120.5 684.8,120.7 707,121 C729.2,121.3 722,121.6 744,122 C766,122.4 816.8,122.8 839,123.5 C861.2,124.2 854.8,125.2 877,126.5 C899.2,127.8 949.7,129.8 972,131 C994.3,132.2 989,131 1011,134 C1033,137 1082.3,144.8 1104,149 C1125.7,153.2 1120.2,152 1141,159 C1161.8,166 1208.8,183.2 1229,191 C1249.2,198.8 1250.2,199.3 1262,206 C1273.8,212.7 1287,222.3 1300,231 C1313,239.7 1326.8,249.5 1340,258 C1353.2,266.5 1368.7,274.7 1379,282 C1389.3,289.3 1395.2,294.8 1402,302 C1408.8,309.2 1414.8,316.7 1420,325 C1425.2,333.3 1428.5,340.3 1433,352 C1437.5,363.7 1442.7,380.8 1447,395 C1451.3,409.2 1455,422.8 1459,437 C1463,451.2 1467.7,465.5 1471,480 C1474.3,494.5 1476.3,509.8 1479,524 C1481.7,538.2 1484.5,550.8 1487,565 C1489.5,579.2 1491.7,594.2 1494,609 C1496.3,623.8 1498.7,639.2 1501,654 C1503.3,668.8 1505.7,683.3 1508,698 C1510.3,712.7 1513,727.2 1515,742 C1517,756.8 1518,772.3 1520,787 C1522,801.7 1524.8,815.5 1527,830 C1529.2,844.5 1531.2,859.2 1533,874 C1534.8,888.8 1536,904.7 1538,919 C1540,933.3 1542.7,945.3 1545,960 C1547.3,974.7 1550,992 1552,1007 C1554,1022 1554.8,1035.5 1557,1050 C1559.2,1064.5 1562.3,1079.3 1565,1094 C1567.7,1108.7 1569.2,1124 1573,1138 C1576.8,1152 1582.5,1169.8 1588,1178 C1593.5,1186.2 1599,1184.5 1606,1187 C1613,1189.5 1622.2,1191.2 1630,1192.7 C1637.8,1194.2 1645.7,1195.2 1653,1196.2 C1660.3,1197.2 1663.7,1197.1 1674,1198.6 C1684.3,1200.1 1692.7,1203.6 1715,1205.4 C1737.3,1207.2 1786.2,1208.6 1808,1209.7 C1829.8,1210.8 1824,1210.6 1846,1211.8 C1868,1213 1917.7,1215.8 1940,1216.9 C1962.3,1218 1965,1217.8 1980,1218.3 C1995,1218.8 2007.8,1219.3 2030,1220 C2052.2,1220.7 2083.2,1221.4 2113,1222.5 C2142.8,1223.6 2180.2,1225.5 2209,1226.7 C2237.8,1227.9 2273.2,1229 2286,1229.5" fill="none" stroke="#7030A0" stroke-width="11.5" stroke-linecap="butt" stroke-linejoin="round" stroke-dasharray="94 38.5" stroke-dashoffset="46.9" clip-path="url(#k11)"/><path d="M269,113 C287.5,113 351.5,112.9 380,113 C408.5,113.1 423.7,113.3 440,113.5 C456.3,113.7 455.8,113.2 478,114 C500.2,114.8 550.8,117 573,118 C595.2,119 588.7,119.5 611,120 C633.3,120.5 684.8,120.7 707,121 C729.2,121.3 722,121.6 744,122 C766,122.4 816.8,122.8 839,123.5 C861.2,124.2 854.8,125.2 877,126.5 C899.2,127.8 949.7,129.8 972,131 C994.3,132.2 989,131 1011,134 C1033,137 1082.3,144.8 1104,149 C1125.7,153.2 1120.2,152 1141,159 C1161.8,166 1208.8,183.2 1229,191 C1249.2,198.8 1250.2,199.3 1262,206 C1273.8,212.7 1287,222.3 1300,231 C1313,239.7 1326.8,249.5 1340,258 C1353.2,266.5 1368.7,274.7 1379,282 C1389.3,289.3 1395.2,294.8 1402,302 C1408.8,309.2 1414.8,316.7 1420,325 C1425.2,333.3 1428.5,340.3 1433,352 C1437.5,363.7 1442.7,380.8 1447,395 C1451.3,409.2 1455,422.8 1459,437 C1463,451.2 1467.7,465.5 1471,480 C1474.3,494.5 1476.3,509.8 1479,524 C1481.7,538.2 1484.5,550.8 1487,565 C1489.5,579.2 1491.7,594.2 1494,609 C1496.3,623.8 1498.7,639.2 1501,654 C1503.3,668.8 1505.7,683.3 1508,698 C1510.3,712.7 1513,727.2 1515,742 C1517,756.8 1518,772.3 1520,787 C1522,801.7 1524.8,815.5 1527,830 C1529.2,844.5 1531.2,859.2 1533,874 C1534.8,888.8 1536,904.7 1538,919 C1540,933.3 1542.7,945.3 1545,960 C1547.3,974.7 1550,992 1552,1007 C1554,1022 1554.8,1035.5 1557,1050 C1559.2,1064.5 1562.3,1079.3 1565,1094 C1567.7,1108.7 1569.2,1124 1573,1138 C1576.8,1152 1582.5,1169.8 1588,1178 C1593.5,1186.2 1599,1184.5 1606,1187 C1613,1189.5 1622.2,1191.2 1630,1192.7 C1637.8,1194.2 1645.7,1195.2 1653,1196.2 C1660.3,1197.2 1663.7,1197.1 1674,1198.6 C1684.3,1200.1 1692.7,1203.6 1715,1205.4 C1737.3,1207.2 1786.2,1208.6 1808,1209.7 C1829.8,1210.8 1824,1210.6 1846,1211.8 C1868,1213 1917.7,1215.8 1940,1216.9 C1962.3,1218 1965,1217.8 1980,1218.3 C1995,1218.8 2007.8,1219.3 2030,1220 C2052.2,1220.7 2083.2,1221.4 2113,1222.5 C2142.8,1223.6 2180.2,1225.5 2209,1226.7 C2237.8,1227.9 2273.2,1229 2286,1229.5" fill="none" stroke="#7030A0" stroke-width="11.5" stroke-linecap="butt" stroke-linejoin="round" stroke-dasharray="94 38.5" stroke-dashoffset="45.3" clip-path="url(#k12)"/>
</g>
<rect x="864.2" y="112.3" width="61.1" height="12.5" fill="#4472C4"/>
<rect x="965.2" y="112.3" width="55" height="12.5" fill="#4472C4"/>
<rect x="1060.8" y="112.3" width="54.2" height="12.5" fill="#4472C4"/>
<rect x="1156.4" y="112.3" width="54.2" height="12.5" fill="#4472C4"/>
<rect x="1206.2" y="157.5" width="12.5" height="54.2" fill="#4472C4"/>
<rect x="1206.2" y="253" width="12.5" height="54" fill="#4472C4"/>
<rect x="1119.2" y="305.2" width="56.7" height="12.5" fill="#4472C4"/>
<rect x="1025.3" y="305.2" width="55" height="12.5" fill="#4472C4"/>
<rect x="929.7" y="305.2" width="55.8" height="12.5" fill="#4472C4"/>
<rect x="864.2" y="305.2" width="24.8" height="12.5" fill="#4472C4"/>
<rect x="864.2" y="275" width="12.5" height="42.8" fill="#4472C4"/>
<rect x="864.2" y="179.5" width="12.5" height="55.9" fill="#4472C4"/>
<rect x="864.2" y="112.3" width="12.5" height="26.7" fill="#4472C4"/>
<rect x="1423.8" y="1076.8" width="65" height="12.5" fill="#4472C4"/>
<rect x="1523.7" y="1076.8" width="55.9" height="12.5" fill="#4472C4"/>
<rect x="1619.5" y="1076.8" width="54.5" height="12.5" fill="#4472C4"/>
<rect x="1714.9" y="1076.8" width="54.5" height="12.5" fill="#4472C4"/>
<rect x="1765.8" y="1122.5" width="12.5" height="53.5" fill="#4472C4"/>
<rect x="1765.8" y="1217.7" width="12.5" height="53.6" fill="#4472C4"/>
<rect x="1678.7" y="1268.2" width="54.8" height="12.5" fill="#4472C4"/>
<rect x="1583" y="1268.2" width="54.8" height="12.5" fill="#4472C4"/>
<rect x="1487.6" y="1268.2" width="54.7" height="12.5" fill="#4472C4"/>
<rect x="1423.8" y="1268.2" width="21.8" height="12.5" fill="#4472C4"/>
<rect x="1423.8" y="1237" width="12.5" height="43.8" fill="#4472C4"/>
<rect x="1423.8" y="1141.5" width="12.5" height="54.7" fill="#4472C4"/>
<rect x="1423.8" y="1076.8" width="12.5" height="24" fill="#4472C4"/>
<line x1="870.5" y1="213.5" x2="827.2" y2="244" stroke="#4472C4" stroke-width="11.5"/><line x1="792.5" y1="268.5" x2="749.2" y2="299.1" stroke="#4472C4" stroke-width="11.5"/><line x1="714.4" y1="323.6" x2="671.1" y2="354.1" stroke="#4472C4" stroke-width="11.5"/><polygon points="607.8,398.8 627.4,362.4 648.7,392.6" fill="#4472C4"/>
<line x1="1599.8" y1="1082.6" x2="1650" y2="1065.5" stroke="#4472C4" stroke-width="11.5"/><line x1="1690.2" y1="1051.8" x2="1740.4" y2="1034.7" stroke="#4472C4" stroke-width="11.5"/><line x1="1780.6" y1="1021" x2="1830.7" y2="1003.9" stroke="#4472C4" stroke-width="11.5"/><line x1="1871" y1="990.1" x2="1898.3" y2="980.8" stroke="#4472C4" stroke-width="11.5"/><polygon points="1933.3,968.9 1904.2,998.3 1892.3,963.3" fill="#4472C4"/>
<rect x="305" y="432.2" width="608.5" height="488.3" fill="#fff"/><g clip-path="url(#cl)"><path d="M300,496.2 C301.5,496.3 305.1,496.5 309,497 C312.9,497.5 318.7,498.6 323.5,499.3 C328.3,500.1 333.3,500.6 338,501.5 C342.7,502.4 347.1,503.5 351.6,504.6 C356.1,505.7 360.7,506.9 365.2,508.2 C369.7,509.5 374.3,511.1 378.8,512.4 C383.3,513.7 387.8,514.6 392.3,516 C396.8,517.4 401.5,519 405.9,520.5 C410.3,522 414.2,523.4 418.6,525 C423,526.6 427.8,528.3 432.2,530.1 C436.6,531.9 440.5,534 444.9,535.9 C449.3,537.8 454.2,539.7 458.4,541.7 C462.6,543.7 466.1,545.8 470.2,548 C474.3,550.2 478.8,552.6 482.9,555 C487,557.4 490.6,559.7 494.7,562.2 C498.8,564.8 503.5,567.7 507.4,570.3 C511.3,572.9 514.6,575.3 518.2,578 C521.8,580.7 525.5,583.5 529.1,586.3 C532.7,589.1 536.4,591.8 540,594.8 C543.6,597.8 547.2,601.4 550.8,604.4 C554.4,607.4 558.2,610 561.7,612.9 C565.2,615.8 568.4,619 571.7,622 C575,625 578.3,627.8 581.6,631 C584.9,634.2 588.3,637.6 591.6,641 C594.9,644.4 598.2,648 601.5,651.5 C604.8,655 608.3,658.4 611.5,661.8 C614.7,665.2 617.7,668.5 620.8,671.8 C623.9,675.1 626.8,678 629.9,681.7 C633,685.4 636.4,690.2 639.5,694 C642.6,697.8 645.7,700.9 648.8,704.4 C651.9,707.9 655.1,711.8 658,715.3 C660.9,718.8 663.6,721.8 666.4,725.4 C669.2,729 671.9,733.4 674.9,737.2 C677.9,741 681.3,744.5 684.1,748.1 C686.9,751.7 689.1,755.2 691.7,759 C694.4,762.8 697.2,767 700,770.8 C702.8,774.6 705.8,777.9 708.5,781.8 C711.2,785.7 713.5,790.5 716,794.4 C718.5,798.3 721.1,801.4 723.6,805.3 C726.1,809.2 728.7,813.9 731.2,818 C733.7,822.1 736.4,825.7 738.8,829.7 C741.2,833.8 743.3,838.2 745.5,842.3 C747.7,846.4 749.8,850.2 752.2,854.1 C754.6,858 757.3,861.8 759.8,865.9 C762.3,870 764.9,874.4 767.4,878.5 C769.9,882.6 772.6,886.2 775,890.3 C777.4,894.4 779.3,898.8 781.7,902.9 C784.1,907 787,910.9 789.2,914.6 C791.4,918.3 794,923.3 795,925" fill="none" stroke="#FF0000" stroke-width="5.5" stroke-linecap="round" stroke-linejoin="round" stroke-dasharray="0 14.05" stroke-dashoffset="4.4"/><path d="M300,470.8 C301.3,470.9 302.9,471 308,471.6 C313.1,472.2 322.5,472.8 330.8,474.3 C339.1,475.8 349,478.4 358,480.7 C367,483 375.9,485.3 385,488 C394.1,490.7 403.4,493.7 412.3,497 C421.2,500.3 429.9,504 438.5,507.8 C447.1,511.6 455.4,515.4 463.9,519.6 C472.3,523.8 481.1,528.5 489.2,533.2 C497.3,537.9 505.1,542.6 512.8,547.7 C520.5,552.8 528.1,558.4 535.4,564 C542.6,569.6 549.2,575.3 556.3,581.2 C563.4,587.1 571.1,592.8 578,599.3 C584.9,605.8 591.4,613.3 597.9,620.1 C604.4,626.9 610.4,633.1 616.7,640 C623,646.9 629.5,654.1 635.8,661.3 C642.1,668.5 648.6,675.8 654.4,683 C660.2,690.2 665,697.2 670.6,704.4 C676.2,711.6 682.5,718.9 688.3,726.3 C694,733.7 699.6,741.3 705.1,749 C710.6,756.7 716.1,764.5 721.1,772.5 C726.1,780.5 730.6,788.9 735.4,796.9 C740.2,804.9 744.9,812.5 749.7,820.5 C754.5,828.5 759.2,836.7 764,844.8 C768.8,852.9 773.4,861.3 778.3,869.2 C783.2,877.1 788.3,884.6 793.4,892 C798.5,899.4 805,908.3 808.6,913.8 C812.2,919.3 813.9,923.1 815,925" fill="none" stroke="#002060" stroke-width="5.5" stroke-linecap="butt" stroke-linejoin="round" stroke-dasharray="20.3 7.6" stroke-dashoffset="6.9"/><path d="M300,467.2 C301.3,467.3 302.9,467.4 308,468 C313.1,468.6 322.5,469.6 330.8,471 C339.1,472.4 349,474.4 358,476.5 C367,478.6 375.9,481 385,483.4 C394.1,485.8 403.1,487.9 412.3,490.6 C421.5,493.3 431.2,496.5 440.3,499.7 C449.4,502.9 458,505.9 466.6,509.7 C475.2,513.5 483.7,517.9 492,522.3 C500.3,526.7 508.4,531.2 516.4,535.9 C524.4,540.6 532.3,545.1 540,550.4 C547.7,555.7 555.2,561.7 562.6,567.6 C570,573.5 577.2,579.5 584.3,585.7 C591.4,591.9 598.2,598.6 605.2,604.7 C612.2,610.8 619,616.2 626,622.5 C633,628.8 640.2,635.8 647,642.3 C653.8,648.8 660.3,654.9 666.6,661.8 C672.9,668.7 679,676.3 685,683.5 C691,690.7 696.6,698.2 702.6,705.2 C708.6,712.2 715.2,718.4 721.1,725.4 C727,732.4 732.3,739.6 737.9,747.3 C743.5,755 749.3,763.7 754.8,771.7 C760.3,779.7 765.4,787.5 770.7,795.2 C776,802.9 781.2,810.4 786.7,818 C792.2,825.6 797.9,833.2 803.5,840.6 C809.1,848 814.5,855.1 820.4,862.5 C826.3,869.9 832.9,877.6 838.9,885.2 C844.9,892.8 852,901.3 856.5,907.9 C861,914.5 864.4,922.1 866,925" fill="none" stroke="#548235" stroke-width="5.5" stroke-linecap="butt" stroke-linejoin="round" stroke-dasharray="20.3 7.7" stroke-dashoffset="7"/><path d="M300,444.5 C304.5,444.9 316,445.6 327,447 C338,448.4 353.2,450.6 366,452.6 C378.8,454.6 391.3,456.6 404,459 C416.7,461.4 429.4,463.7 442,467 C454.6,470.3 467.1,474.5 479.3,478.9 C491.6,483.3 503.6,488.1 515.5,493.4 C527.4,498.7 539.5,504.7 550.8,510.6 C562.1,516.5 572.5,521.9 583.4,528.7 C594.3,535.5 605.5,543.6 616.3,551.3 C627.1,559 637.9,567 648,575 C658.1,583 667.3,591.1 677,599.3 C686.7,607.5 696.3,615.4 706,624 C715.7,632.6 725.5,641.5 735,651 C744.5,660.5 754.1,671.7 763,681 C771.9,690.3 779.7,698.1 788.4,706.9 C797.1,715.7 806.2,724.5 815.3,733.8 C824.4,743 834.3,752.9 843,762.4 C851.7,771.9 860.1,780.5 867.5,791 C874.9,801.5 881.7,814 887.6,825.5 C893.5,837 898.7,850.9 902.8,860 C906.9,869.1 909.5,874.2 912,880 C914.5,885.8 917,892.5 918,895" fill="none" stroke="#767171" stroke-width="5.5" stroke-linecap="butt" stroke-linejoin="round" stroke-dasharray="25.4 52.4" stroke-dashoffset="24"/><path d="M300,444.5 C304.5,444.9 316,445.6 327,447 C338,448.4 353.2,450.6 366,452.6 C378.8,454.6 391.3,456.6 404,459 C416.7,461.4 429.4,463.7 442,467 C454.6,470.3 467.1,474.5 479.3,478.9 C491.6,483.3 503.6,488.1 515.5,493.4 C527.4,498.7 539.5,504.7 550.8,510.6 C562.1,516.5 572.5,521.9 583.4,528.7 C594.3,535.5 605.5,543.6 616.3,551.3 C627.1,559 637.9,567 648,575 C658.1,583 667.3,591.1 677,599.3 C686.7,607.5 696.3,615.4 706,624 C715.7,632.6 725.5,641.5 735,651 C744.5,660.5 754.1,671.7 763,681 C771.9,690.3 779.7,698.1 788.4,706.9 C797.1,715.7 806.2,724.5 815.3,733.8 C824.4,743 834.3,752.9 843,762.4 C851.7,771.9 860.1,780.5 867.5,791 C874.9,801.5 881.7,814 887.6,825.5 C893.5,837 898.7,850.9 902.8,860 C906.9,869.1 909.5,874.2 912,880 C914.5,885.8 917,892.5 918,895" fill="none" stroke="#767171" stroke-width="6.0" stroke-linecap="round" stroke-linejoin="round" stroke-dasharray="0 77.8" stroke-dashoffset="49.5"/><path d="M300,440 C305.1,440.1 321.6,440.1 330.8,440.5 C340,440.9 342,441.2 355,442.6 C368,444 395.7,447.2 408.6,449 C421.5,450.8 419.5,450.9 432.2,453.5 C444.9,456.1 472.2,461.7 484.7,464.4 C497.2,467.1 494.7,466.6 507.4,469.8 C520.1,473 548.3,479.9 560.8,483.4 C573.3,486.9 576,488.2 582.5,490.6 C589,493 592,494.4 600,497.9 C608,501.4 621.8,507.4 630.8,511.5 C639.8,515.6 643,516.1 654.3,522.3 C665.6,528.5 687.7,541.6 698.7,548.6 C709.7,555.6 710.1,556.1 720.4,564 C730.7,571.9 750.5,587.6 760.3,595.7 C770.1,603.9 769.6,604.1 779.3,612.9 C789,621.6 808.9,639.5 818.3,648.2 C827.7,657 826.8,656.2 835.5,665.4 C844.2,674.6 861.5,693.8 870.8,703.5 C880,713.2 884,716.4 891,723.7 C898,731 908.1,741.9 912.9,747.3 C917.7,752.7 918.8,754.5 920,756" fill="none" stroke="#7030A0" stroke-width="5.5" stroke-linecap="butt" stroke-linejoin="round" stroke-dasharray="53.6 24.4" stroke-dashoffset="22.7"/></g><rect x="305" y="432.2" width="608.5" height="488.3" fill="none" stroke="#000" stroke-width="6.3"/>
<rect x="1618" y="410.5" width="629.2" height="513.8" fill="#fff"/><g clip-path="url(#cr)"><path d="M1667,400 C1667.2,401.8 1667.5,391 1668,411 C1668.5,431 1669.3,485.2 1670,520 C1670.7,554.8 1671.3,590 1672,620 C1672.7,650 1673.5,682.5 1674,700 C1674.5,717.5 1672.7,719.9 1675,725 C1677.3,730.1 1683.3,729 1687.9,730.7 C1692.5,732.4 1697.7,733.6 1702.4,735.2 C1707.1,736.8 1711.5,738.9 1716,740.2 C1720.5,741.5 1724.8,741.9 1729.5,743 C1734.2,744.1 1739.3,745.7 1744,747 C1748.7,748.3 1752.9,749.2 1757.6,750.6 C1762.3,752 1767.4,753.8 1772.1,755.1 C1776.8,756.5 1781,757.4 1785.7,758.7 C1790.4,760 1795.5,761.8 1800.2,763 C1804.9,764.2 1809.1,764.9 1813.8,766 C1818.5,767.1 1823.5,768.6 1828.3,769.6 C1833.1,770.6 1838.1,771.2 1842.8,772.3 C1847.5,773.3 1851.6,774.8 1856.3,775.9 C1861,777 1866,777.7 1870.8,778.7 C1875.6,779.7 1880.5,780.7 1885.3,781.7 C1890.1,782.8 1895.1,783.9 1899.8,785 C1904.5,786.1 1908.7,787.4 1913.4,788.6 C1918.1,789.8 1920.8,790.6 1927.9,792.2 C1935,793.9 1946.4,796.5 1955.9,798.5 C1965.4,800.5 1975.5,802.5 1985,804.5 C1994.5,806.5 2003.5,808.8 2013.1,810.7 C2022.6,812.6 2032.8,814 2042.3,815.8 C2051.8,817.6 2061,819.4 2070.4,821.4 C2079.8,823.4 2089.1,825.4 2098.5,827.5 C2107.9,829.6 2117.1,831.8 2126.7,833.8 C2136.2,835.8 2146.3,837.9 2155.8,839.7 C2165.3,841.5 2174.4,843 2183.9,844.5 C2193.4,846 2203.3,847.4 2213,849 C2222.7,850.6 2235.1,853.1 2242.1,854.4 C2249.1,855.7 2252.8,856.6 2255,857" fill="none" stroke="#FF0000" stroke-width="5.5" stroke-linecap="round" stroke-linejoin="round" stroke-dasharray="0 14.55" stroke-dashoffset="5"/><path d="M1666,400 C1666.2,401.8 1666.4,399.3 1667,411 C1667.6,422.7 1668.5,445.2 1669.5,470 C1670.5,494.8 1671.9,531.7 1673,560 C1674.1,588.3 1675.3,622 1676,640 C1676.7,658 1675.7,662.4 1677,668 C1678.3,673.6 1681.1,672.1 1684,673.6 C1686.9,675.1 1688,675.1 1694.2,677 C1700.4,678.9 1712.2,682.6 1721.4,685.2 C1730.6,687.8 1740,690.1 1749.5,692.8 C1759,695.5 1768.9,698.8 1778.4,701.5 C1787.9,704.2 1797.1,706.5 1806.5,708.9 C1815.9,711.3 1825.2,713.6 1834.6,715.8 C1844,717.9 1853.3,719.8 1862.7,721.8 C1872.1,723.8 1881.3,725.8 1890.8,727.9 C1900.3,730 1910.2,732.2 1919.7,734.5 C1929.2,736.8 1938.7,739.3 1948.1,741.5 C1957.5,743.7 1966.9,745.8 1976.3,747.9 C1985.7,750 1995,752.2 2004.4,754.1 C2013.8,756 2023,757.6 2032.6,759.5 C2042.1,761.4 2052,763.3 2061.7,765.2 C2071.4,767.1 2081.3,769.1 2090.8,771 C2100.3,772.9 2109.5,774.9 2118.9,776.8 C2128.3,778.7 2137.4,780.7 2147,782.6 C2156.6,784.5 2166.5,786.5 2176.2,788.3 C2185.9,790.1 2195.6,791.6 2205.3,793.3 C2215,794.9 2226.1,796.8 2234.4,798.2 C2242.7,799.6 2251.6,801.2 2255,801.8" fill="none" stroke="#002060" stroke-width="5.5" stroke-linecap="butt" stroke-linejoin="round" stroke-dasharray="20 8.8" stroke-dashoffset="6.3"/><path d="M1679,400 C1679.1,404.2 1679,413.9 1679.7,425.4 C1680.4,436.9 1681.5,453 1683.3,468.9 C1685.1,484.8 1686.7,504.3 1690.6,520.5 C1694.5,536.7 1701.3,554.8 1706.9,566 C1712.5,577.2 1718.1,581.5 1724,588 C1729.9,594.5 1731.8,598.1 1742.2,604.8 C1752.6,611.5 1771.3,621.1 1786.6,628.3 C1801.8,635.5 1817.7,641.9 1833.7,647.8 C1849.7,653.7 1866.3,658.6 1882.6,663.7 C1898.9,668.8 1915.2,673.8 1931.6,678.3 C1948,682.8 1964.6,686.8 1981.1,690.5 C1997.6,694.2 2013.9,697.2 2030.6,700.6 C2047.2,704 2064.2,707.5 2081,710.8 C2097.8,714.1 2114.8,717.4 2131.5,720.3 C2148.2,723.2 2164.2,725.8 2181,728.3 C2197.8,730.8 2220.1,733.4 2232.4,735.1 C2244.7,736.8 2251.2,737.9 2255,738.5" fill="none" stroke="#548235" stroke-width="5.5" stroke-linecap="butt" stroke-linejoin="round" stroke-dasharray="28.5 22.5" stroke-dashoffset="46.9"/><path d="M1684,400 C1684.5,404.2 1684.2,416.5 1687,425.4 C1689.8,434.3 1693.9,443.7 1700.5,453.5 C1707.1,463.3 1716.8,475.6 1726.8,484.3 C1736.8,493.1 1748.8,499.4 1760.3,506 C1771.8,512.6 1783.6,518.5 1795.7,524.2 C1807.8,530 1820.4,536 1832.8,540.5 C1845.2,545 1857,548.1 1870,551.3 C1883,554.5 1899.7,557.3 1910.7,559.5 C1921.8,561.7 1927.5,562.9 1936.3,564.6 C1945.1,566.3 1954.8,568 1963.5,569.8 C1972.2,571.6 1980.2,573.7 1988.8,575.6 C1997.4,577.5 2006.2,579.2 2015,581 C2023.8,582.8 2032.6,584.4 2041.4,586.2 C2050.2,588 2058.7,589.8 2067.6,591.6 C2076.5,593.4 2086,595.4 2094.8,597.2 C2103.6,599 2111.6,600.6 2120.2,602.3 C2128.8,604 2137.5,605.7 2146.4,607.5 C2155.3,609.3 2164.7,611.2 2173.6,613 C2182.5,614.8 2191.1,616.6 2199.9,618.4 C2208.7,620.2 2217,621.9 2226.2,623.8 C2235.4,625.6 2250.2,628.5 2255,629.5" fill="none" stroke="#767171" stroke-width="5.5" stroke-linecap="butt" stroke-linejoin="round" stroke-dasharray="27 53.6" stroke-dashoffset="78.4"/><path d="M1684,400 C1684.5,404.2 1684.2,416.5 1687,425.4 C1689.8,434.3 1693.9,443.7 1700.5,453.5 C1707.1,463.3 1716.8,475.6 1726.8,484.3 C1736.8,493.1 1748.8,499.4 1760.3,506 C1771.8,512.6 1783.6,518.5 1795.7,524.2 C1807.8,530 1820.4,536 1832.8,540.5 C1845.2,545 1857,548.1 1870,551.3 C1883,554.5 1899.7,557.3 1910.7,559.5 C1921.8,561.7 1927.5,562.9 1936.3,564.6 C1945.1,566.3 1954.8,568 1963.5,569.8 C1972.2,571.6 1980.2,573.7 1988.8,575.6 C1997.4,577.5 2006.2,579.2 2015,581 C2023.8,582.8 2032.6,584.4 2041.4,586.2 C2050.2,588 2058.7,589.8 2067.6,591.6 C2076.5,593.4 2086,595.4 2094.8,597.2 C2103.6,599 2111.6,600.6 2120.2,602.3 C2128.8,604 2137.5,605.7 2146.4,607.5 C2155.3,609.3 2164.7,611.2 2173.6,613 C2182.5,614.8 2191.1,616.6 2199.9,618.4 C2208.7,620.2 2217,621.9 2226.2,623.8 C2235.4,625.6 2250.2,628.5 2255,629.5" fill="none" stroke="#767171" stroke-width="6.0" stroke-linecap="round" stroke-linejoin="round" stroke-dasharray="0 80.6" stroke-dashoffset="25.1"/><path d="M1741,400 C1741.7,402.5 1743.4,410.2 1745,415 C1746.6,419.8 1747.2,422.6 1750.4,429 C1753.6,435.4 1759.3,445.9 1764,453.5 C1768.7,461.1 1772.7,467.8 1778.4,474.3 C1784.1,480.8 1791.3,487.1 1798.4,492.5 C1805.5,497.9 1813.3,502.1 1821,506.5 C1828.7,510.9 1836.4,515 1844.6,518.7 C1852.8,522.4 1861.8,525.5 1870,528.7 C1878.2,531.9 1885.4,534.9 1893.5,537.8 C1901.6,540.7 1910.5,543.7 1918.8,546.3 C1927.1,548.9 1934.9,551 1943.6,553.2 C1952.3,555.4 1961.8,557.3 1971,559.3 C1980.2,561.3 1990.1,563.3 1998.8,565 C2007.5,566.7 2014.8,568 2023.3,569.7 C2031.8,571.4 2040.8,573.2 2050,575 C2059.2,576.8 2069.7,578.6 2078.5,580.3 C2087.3,581.9 2094.4,583.2 2103,584.9 C2111.6,586.6 2120.9,588.5 2130,590.3 C2139.1,592.1 2148.7,593.9 2157.3,595.7 C2165.9,597.5 2173.2,599.2 2181.8,601 C2190.4,602.8 2199.9,604.7 2209,606.5 C2218.1,608.3 2228.4,610.5 2236.1,612 C2243.8,613.5 2251.8,615.2 2255,615.8" fill="none" stroke="#7030A0" stroke-width="5.5" stroke-linecap="butt" stroke-linejoin="round" stroke-dasharray="55.5 25.5" stroke-dashoffset="54.6"/></g><rect x="1618" y="410.5" width="629.2" height="513.8" fill="none" stroke="#000" stroke-width="6.3"/>
</svg></body></html>
